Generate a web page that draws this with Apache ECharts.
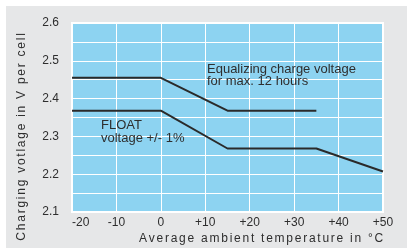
<!DOCTYPE html>
<html>
<head>
<meta charset="utf-8">
<script src="https://cdn.jsdelivr.net/npm/echarts@6/dist/echarts.min.js"></script>
<style>
html,body{margin:0;padding:0;background:#fff;}
#chart{width:407px;height:248px;}
</style>
</head>
<body>
<div id="chart"></div>
<script>
// values
var eqTemps=[-20,0,15,35];
var eqVolts=[2.455,2.455,2.368,2.368];
var floatTemps=[-20,0,15,35,50];
var floatVolts=[2.368,2.368,2.268,2.268,2.207];
var xName='Average ambient temperature in °C';
var yName='Charging votlage in V per cell';

var FONT='"Liberation Sans", Arial, sans-serif';
var INK='#2e2e2e';

// per letter tokens, padded right to get the wide letter spacing
function spaced(s){
    var out='';
    for(var i=0;i<s.length;i++){
        out+='{c|'+s[i]+'}';
    }
    return out;
}
function pairs(xs,ys){
    var d=[];
    for(var i=0;i<xs.length;i++) d.push([xs[i],ys[i]]);
    return d;
}

var lineStyle={color:'#2a2a2a',width:2};

var myChart=echarts.init(document.getElementById('chart'));
var option={
    backgroundColor:'#fff',
    animation:false,
    grid:{
        left:72,right:24,top:23,bottom:36,
        show:true,
        backgroundColor:'#8dd3f1',
        borderColor:'#fff',
        borderWidth:2
    },
    xAxis:{
        type:'value',
        min:-20,max:50,interval:10,
        axisLine:{show:false},
        axisTick:{show:false},
        splitLine:{lineStyle:{color:'#fff',width:1}},
        axisLabel:{
            color:INK,fontSize:12,fontFamily:FONT,margin:5,
            alignMinLabel:'left',
            formatter:function(v){return v>0?'+'+v:''+v;}
        }
    },
    yAxis:{
        type:'value',
        min:2.1,max:2.6,interval:0.05,
        axisLine:{show:false},
        axisTick:{show:false},
        splitLine:{lineStyle:{color:'#fff',width:1}},
        axisLabel:{
            color:INK,fontSize:12,fontFamily:FONT,margin:13,
            formatter:function(v){
                var n=Math.round(v*100);
                return n%10===0?(n/100).toFixed(1):'';
            }
        }
    },
    graphic:[
        {type:'rect',z:-10,silent:true,shape:{x:6,y:6,width:401,height:242},style:{fill:'#e6e7e8'}},
        {type:'text',z:100,x:207,y:75,style:{text:'Equalizing charge voltage\nfor max. 12 hours',fill:INK,font:'13px '+FONT,lineHeight:12,verticalAlign:'middle'}},
        {type:'text',z:100,x:101,y:132,style:{text:'FLOAT\nvoltage +/- 1%',fill:INK,font:'13px '+FONT,lineHeight:13,verticalAlign:'middle'}},
        {type:'text',z:100,x:385,y:239,style:{text:spaced(xName),align:'right',verticalAlign:'middle',
            rich:{c:{fill:INK,fontSize:12,fontFamily:FONT,padding:[0,1.75,0,0]}}}},
        {type:'text',z:100,x:22,y:136,rotation:Math.PI/2,style:{text:spaced(yName),align:'center',verticalAlign:'middle',
            rich:{c:{fill:INK,fontSize:12,fontFamily:FONT,padding:[0,1.75,0,0]}}}}
    ],
    series:[
        {name:'Equalizing',type:'line',symbol:'none',data:pairs(eqTemps,eqVolts),lineStyle:lineStyle},
        {name:'Float',type:'line',symbol:'none',data:pairs(floatTemps,floatVolts),lineStyle:lineStyle}
    ]
};
myChart.setOption(option);
</script>
</body>
</html>
